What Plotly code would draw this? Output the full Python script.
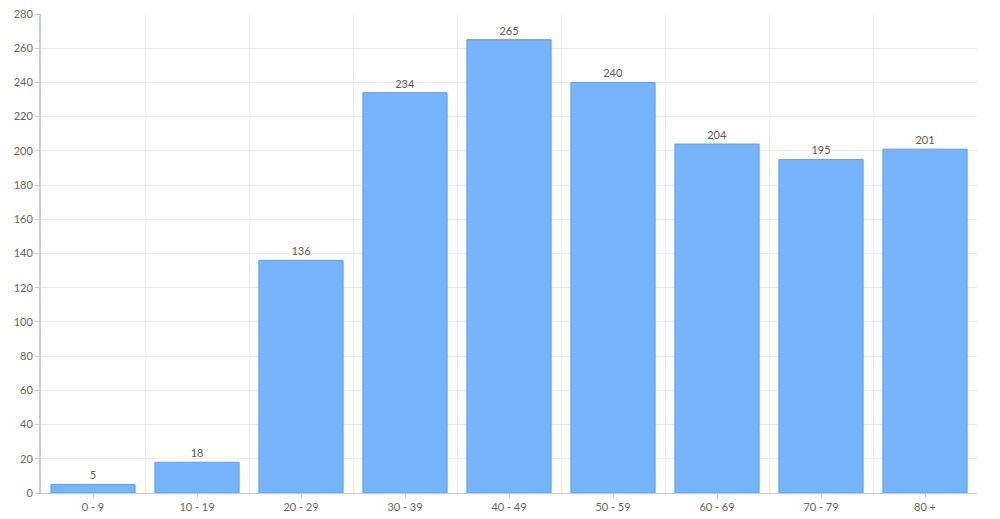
import plotly.graph_objects as go

categories = ["0 - 9", "10 - 19", "20 - 29", "30 - 39", "40 - 49", "50 - 59", "60 - 69", "70 - 79", "80 +"]
values = [5, 18, 136, 234, 265, 240, 204, 195, 201]
positions = list(range(len(categories)))

fig = go.Figure(go.Bar(
    x=positions, y=values,
    text=[str(v) for v in values], textposition="outside",
    textfont=dict(size=11, color="#5a5a5a"),
    marker=dict(color="#76b4fb", line=dict(color="#5b9ff2", width=1)),
    cliponaxis=False,
))

fig.update_layout(
    width=1000, height=519,
    margin=dict(l=41, r=23, t=14, b=26),
    paper_bgcolor="white", plot_bgcolor="white",
    font=dict(family="Lato, Open Sans, sans-serif", size=11, color="#666666"),
    bargap=0.19,
    showlegend=False,
    xaxis=dict(
        range=[-0.5, len(categories) - 0.5],
        tickvals=positions, ticktext=categories,
        showgrid=False, zeroline=False, automargin=False,
        showline=True, linecolor="#cccccc", linewidth=1,
        ticks="outside", ticklen=4, tickcolor="#cccccc",
        minor=dict(tick0=0.5, dtick=1, showgrid=True, gridcolor="#ebebeb", ticklen=0),
        tickfont=dict(size=11, color="#666666"),
    ),
    yaxis=dict(
        range=[0, 280], dtick=20, automargin=False,
        showgrid=True, gridcolor="#ebebeb", zeroline=False,
        showline=True, linecolor="#cccccc", linewidth=2,
        ticks="outside", ticklen=4, tickcolor="#cccccc",
        tickfont=dict(size=11, color="#666666"),
    ),
)

fig.write_html("out.html")
